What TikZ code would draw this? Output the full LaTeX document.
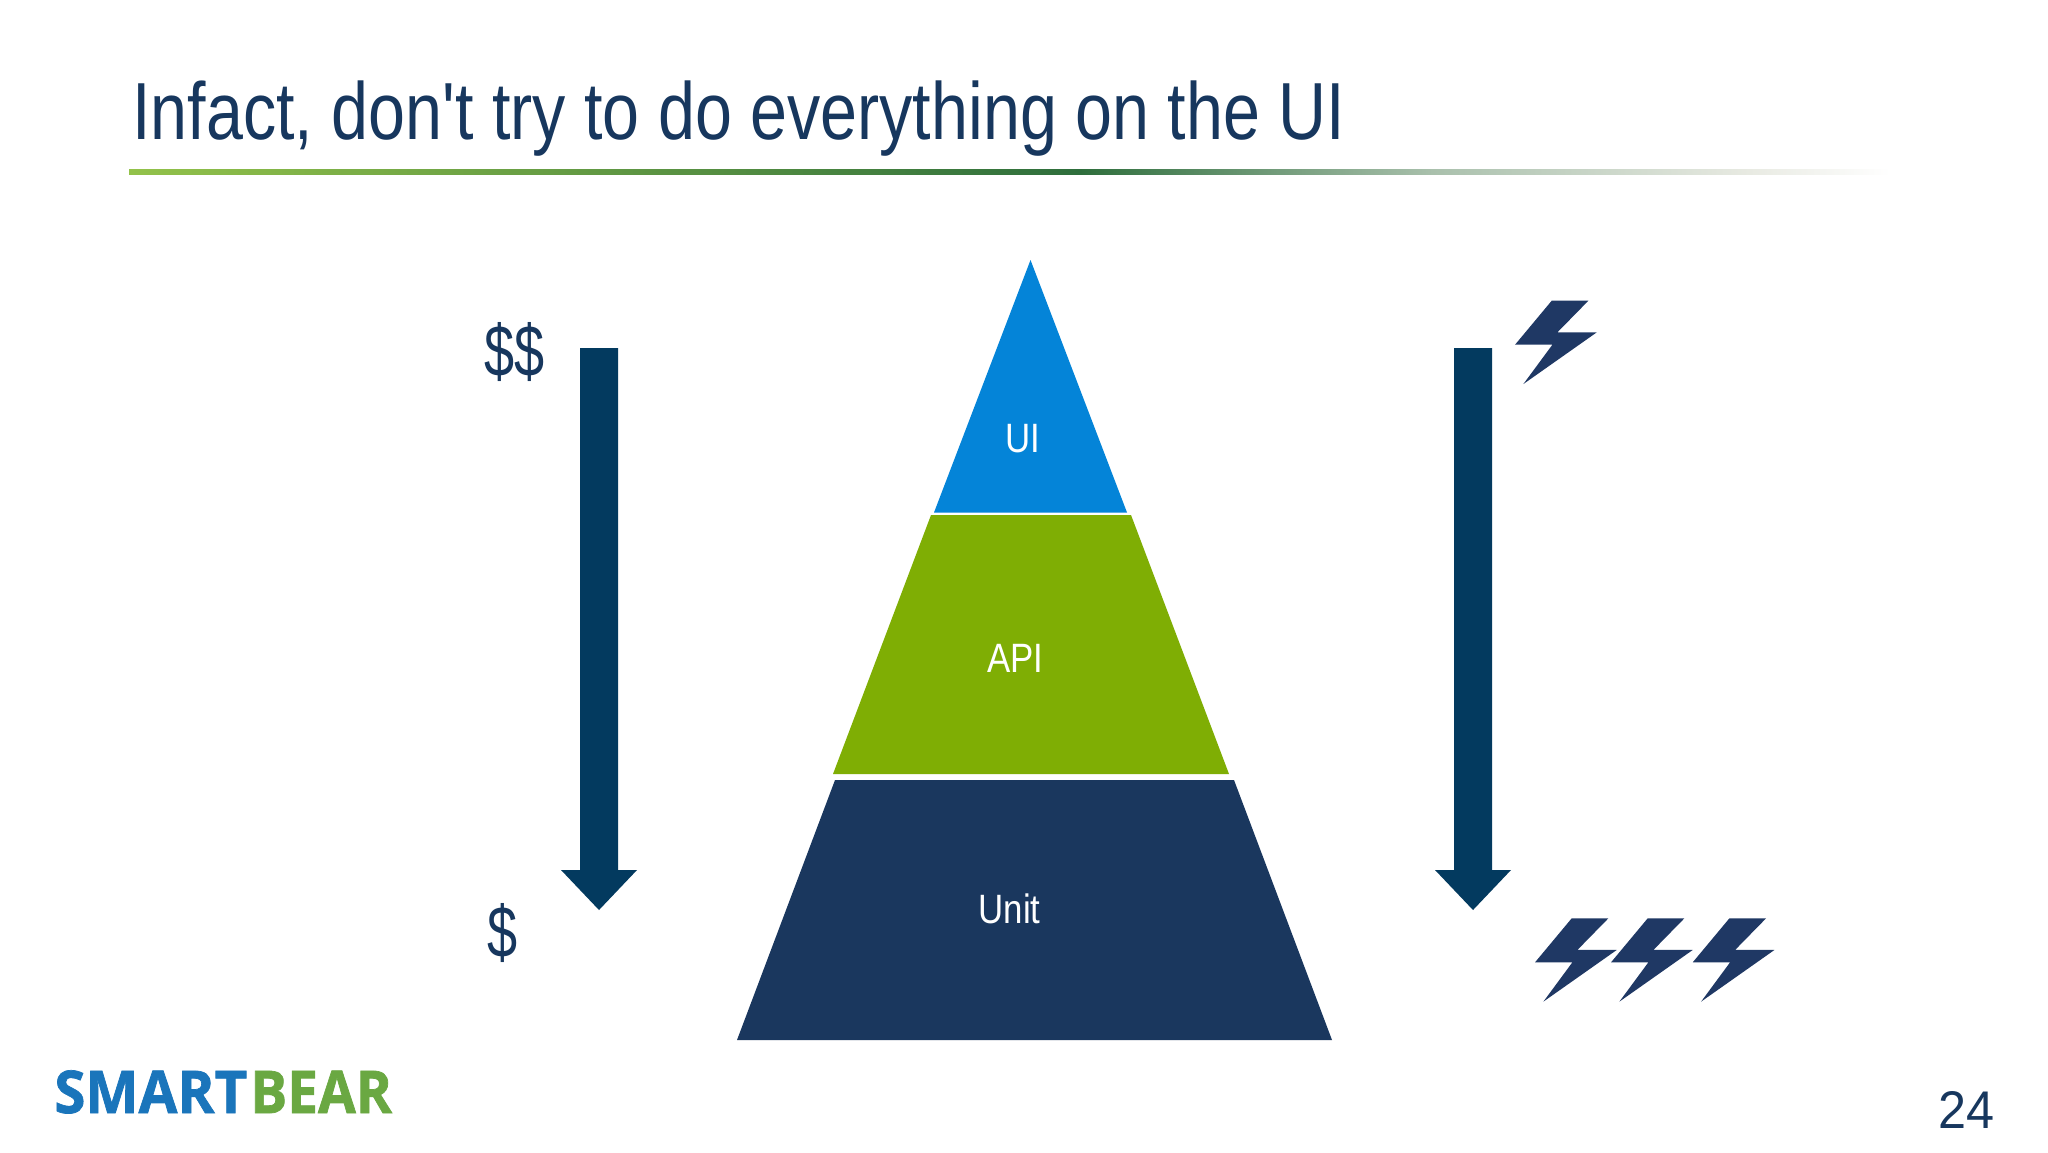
\documentclass[tikz,border=0pt]{standalone}
\usepackage{fontspec}
\setmainfont{Liberation Sans}
\newfontfamily\titlefont[FakeStretch=0.82]{Liberation Sans}
\newfontfamily\labelfont[FakeStretch=0.85]{Liberation Sans}
\newfontfamily\moneyfont[FakeStretch=0.74]{Liberation Sans}
\newfontfamily\pagefont[FakeStretch=0.95]{Liberation Sans}
\newfontfamily\logofont[FakeStretch=0.955,FakeBold=1.2]{Open Sans}
\newfontfamily\logofontb[FakeStretch=0.93,FakeBold=1.2]{Open Sans}
\definecolor{titleblue}{HTML}{17375E}
\definecolor{uiblue}{HTML}{0484D8}
\definecolor{apigreen}{HTML}{7FAE04}
\definecolor{unitblue}{HTML}{1A375E}
\definecolor{arrowblue}{HTML}{033A5F}
\definecolor{boltblue}{HTML}{1F3864}
\definecolor{logoblue}{HTML}{1A75BB}
\definecolor{logogreen}{HTML}{6AA842}
\definecolor{rulea}{HTML}{93C24A}
\definecolor{ruleb}{HTML}{2E6E3C}
\definecolor{rulec}{HTML}{A9C0AC}
\definecolor{ruled}{HTML}{E8EAE2}
\pgfdeclarehorizontalshading{titlerule}{100bp}{color(0bp)=(rulea); color(25bp)=(rulea); color(52bp)=(ruleb); color(62bp)=(rulec); color(71bp)=(ruled); color(75bp)=(white); color(100bp)=(white)}
\tikzset{
  label text/.style={inner sep=0pt,text=white,font=\labelfont\fontsize{20.5}{24}\selectfont},
  money/.style={inner sep=0pt,text=titleblue,font=\moneyfont\fontsize{36.5}{44}\selectfont},
  bolt/.pic={\fill[boltblue,x=0.16667pt,y=-0.16667pt] (0,0)--(110,0)--(17,95)--(135,95)--(-85,250)--(2,132)--(-110,132)--cycle;},
}
\begin{document}
\begin{tikzpicture}[x=0.5pt,y=-0.5pt]
\useasboundingbox (0,0) rectangle (2048,1152);
\fill[white] (0,0) rectangle (2048,1152);
% title
\node[anchor=base west,inner sep=0pt,text=titleblue,font=\titlefont\fontsize{40.5}{48}\selectfont] (title) at (132,139) {Infact, don't try to do everything on the UI};
\fill[shading=titlerule] (129,169.5) rectangle (1890,174.5);
% pyramid
\fill[uiblue] (1030.5,260) -- (1127,512.5) -- (934,512.5) -- cycle;
\fill[apigreen] (931,515) -- (1131,515) -- (1229,774) -- (833,774) -- cycle;
\fill[unitblue] (835,780) -- (1234,780) -- (1332,1040) -- (737,1040) -- cycle;
\node[label text] (ui) at (1023,439) {UI};
\node[label text,anchor=base] (api) at (1015.5,672) {API};
\node[label text] (unit) at (1009.5,909) {Unit};
% left arrow
\fill[arrowblue] (580,348) -- (618,348) -- (618,870) -- (637,870) -- (599,910) -- (561,870) -- (580,870) -- cycle;
\node[money,anchor=base west] (dd) at (484,376) {\$\$};
\node[money,anchor=base west] (d) at (487,957) {\$};
% right arrow
\fill[arrowblue] (1454,348) -- (1492,348) -- (1492,870) -- (1511,870) -- (1473,910) -- (1435,870) -- (1454,870) -- cycle;
% bolts
\pic at (1551.7,300.7) {bolt};
\pic at (1571.7,918.3) {bolt};
\pic at (1647.7,918.3) {bolt};
\pic at (1729.4,918.3) {bolt};
% logo
\node[anchor=base west,inner sep=0pt,text=logoblue,font=\logofont\bfseries\fontsize{29.5}{36}\selectfont] (smart) at (54,1113) {SMART};
\node[anchor=base west,inner sep=0pt,text=logogreen,font=\logofontb\bfseries\fontsize{29.5}{36}\selectfont] (bear) at (250,1113) {BEAR};
% page number
\node[anchor=base east,inner sep=0pt,text=titleblue,font=\pagefont\fontsize{26.5}{32}\selectfont] (page) at (1995,1128) {24};
\end{tikzpicture}
\end{document}
